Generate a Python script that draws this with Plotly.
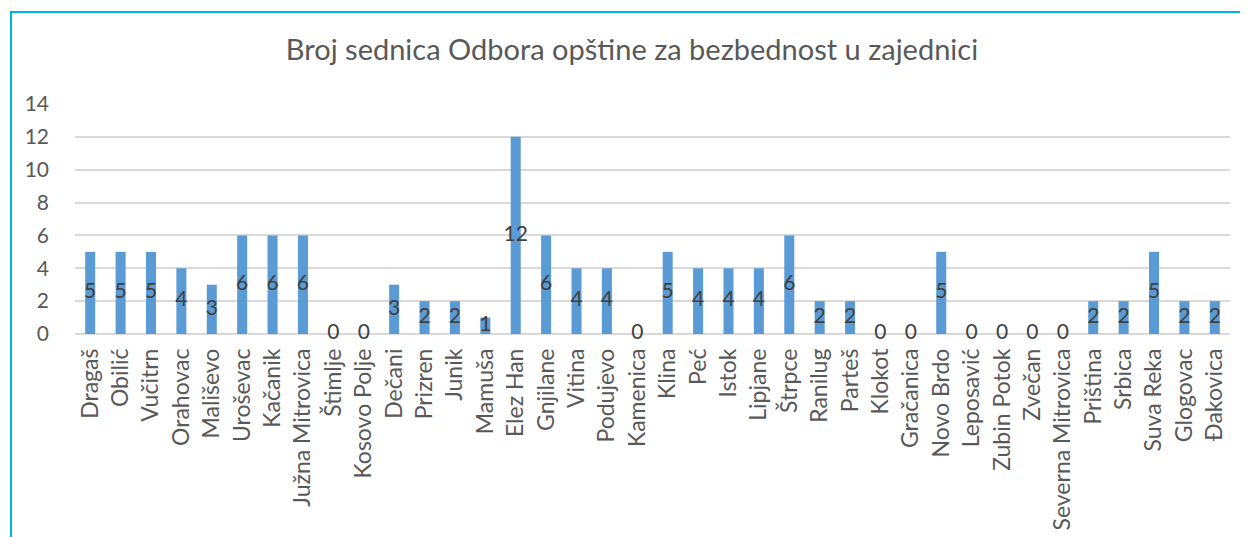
import plotly.graph_objects as go

categories = ["Dragaš", "Obilić", "Vučitrn", "Orahovac", "Mališevo", "Uroševac", "Kačanik",
              "Južna Mitrovica", "Štimlje", "Kosovo Polje", "Dečani", "Prizren", "Junik", "Mamuša",
              "Elez Han", "Gnjilane", "Vitina", "Podujevo", "Kamenica", "Klina", "Peć", "Istok",
              "Lipjane", "Štrpce", "Ranilug", "Parteš", "Klokot", "Gračanica", "Novo Brdo",
              "Leposavić", "Zubin Potok", "Zvečan", "Severna Mitrovica", "Priština", "Srbica",
              "Suva Reka", "Glogovac", "Đakovica"]
values = [5, 5, 5, 4, 3, 6, 6, 6, 0, 0, 3, 2, 2, 1, 12, 6, 4, 4, 0, 5, 4, 4, 4, 6, 2, 2,
          0, 0, 5, 0, 0, 0, 0, 2, 2, 5, 2, 2]
title = "Broj sednica Odbora opštine za bezbednost u zajednici"
y_ticks = [0, 2, 4, 6, 8, 10, 12, 14]

FONT = "Lato"
W, H = 1248, 537
L, R, T, B = 67, 26, 96, 211
pw, ph = W - L - R, H - T - B

fig = go.Figure()
fig.add_trace(go.Bar(x=categories, y=values, marker=dict(color="#5B9BD5", line=dict(width=0)),
                     hoverinfo="x+y", showlegend=False))
fig.add_trace(go.Scatter(x=categories, y=[v / 2 for v in values], mode="text",
                         text=[str(v) for v in values], cliponaxis=False,
                         textfont=dict(family=FONT, size=21, color="#404040"),
                         textposition="middle center", showlegend=False, hoverinfo="skip"))

fig.update_layout(
    width=W, height=H,
    margin=dict(l=L, r=R, t=T, b=B),
    paper_bgcolor="white", plot_bgcolor="white",
    bargap=0.67,
    title=dict(text=title, x=0.5, xanchor="center", y=1 - 42 / H, yanchor="middle",
               font=dict(family=FONT, size=29, color="#595959")),
    xaxis=dict(tickangle=-90, tickfont=dict(family=FONT, size=23, color="#595959"),
               showgrid=False, showline=False, ticks="", range=[-0.5, len(categories) - 0.5],
               ticklabelstandoff=9),
    yaxis=dict(range=[0, 14], tickvals=y_ticks, showgrid=True, gridcolor="#D9D9D9",
               gridwidth=1.5, zeroline=True, zerolinecolor="#D9D9D9", zerolinewidth=1.5,
               tickfont=dict(family=FONT, size=21, color="#595959"), ticks="",
               ticklabelstandoff=25),
    shapes=[dict(type="rect", xref="paper", yref="paper",
                 x0=(3 - L) / pw, x1=1.2, y0=-1.5, y1=(H - B - 4) / ph,
                 line=dict(color="#00B0F0", width=2), fillcolor="rgba(0,0,0,0)", layer="below")],
)

fig.write_html("out.html")
